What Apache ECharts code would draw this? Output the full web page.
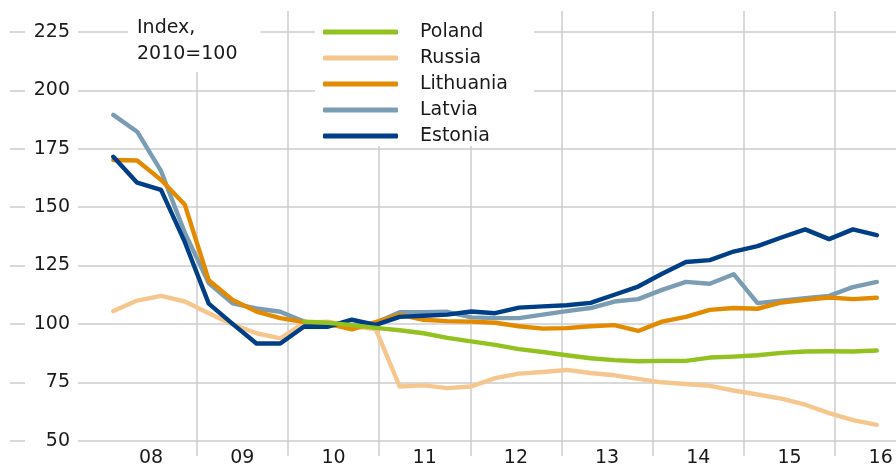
<!DOCTYPE html>
<html>
<head>
<meta charset="utf-8">
<script src="https://cdn.jsdelivr.net/npm/echarts@6/dist/echarts.min.js"></script>
<style>
  html, body { margin: 0; padding: 0; background: #fff; }
  #chart { width: 896px; height: 468px; }
</style>
</head>
<body>
<div id="chart"></div>
<script>
"use strict";

// quarterly points, index 2010=100
const quarters = [];
for (let y = 2008; y <= 2016; y++) {
  for (let q = 1; q <= 4; q++) {
    if (quarters.length < 33) quarters.push(y + "Q" + q);
  }
}
const years = ["08", "09", "10", "11", "12", "13", "14", "15", "16"];
const yTicks = [50, 75, 100, 125, 150, 175, 200, 225];

const poland = [null, null, null, null, null, null, null, null,
  101, 100.5, 99.5, 98.3, 97.3, 96, 94, 92.5, 91, 89.2, 88, 86.6, 85.3, 84.5, 84,
  84.2, 84.2, 85.6, 86, 86.6, 87.6, 88.2, 88.3, 88.2, 88.6];
const russia = [105.5, 110, 112, 109.6, 104.6, 99.8, 96, 93.8, 100.5, 101, 99,
  97.8, 73.2, 73.7, 72.5, 73.2, 76.8, 78.7, 79.4, 80.3, 79, 78, 76.5, 75, 74.3,
  73.5, 71.5, 69.8, 68, 65.4, 61.8, 58.8, 56.8];
const lithuania = [170.2, 170, 161.7, 151, 118.7, 110.3, 105.3, 102.5, 100.8, 100,
  97.7, 100.8, 104, 101.8, 101.2, 101, 100.5, 99, 98, 98.2, 99, 99.5, 97, 101, 103,
  106, 106.8, 106.5, 109.2, 110.3, 111.3, 110.6, 111.2];
const latvia = [189.5, 182.3, 165.5, 139, 117.5, 108.8, 106.6, 105.2, 101, 99.5, 99,
  100.5, 105, 105, 105.2, 102.8, 102.5, 102.5, 104, 105.5, 106.8, 109.6, 110.6,
  114.6, 118, 117.2, 121.3, 108.9, 110, 111, 112, 115.8, 118];
const estonia = [171.6, 160.5, 157.4, 135, 108.7, 100, 91.6, 91.6, 98.9, 98.8, 101.8,
  99.6, 103, 103.5, 104, 105.3, 104.6, 107, 107.5, 108, 109, 112.5, 116, 121.5,
  126.5, 127.3, 131, 133.3, 137, 140.5, 136.3, 140.5, 138];

const colors = {
  Poland: "#93c11f",
  Russia: "#f5c68d",
  Lithuania: "#e38a00",
  Latvia: "#7b9db4",
  Estonia: "#003e86",
};
const FONT = "DejaVu Sans";
const GRID_COLOR = "#cccccc";
const TEXT_COLOR = "#1a1a1a";

// year bands: the last one runs past the right edge of the canvas
const W = 896;
const YEAR_LEFT = 105.5;
const YEAR_W = 91.2;

function make_series(name, values) {
  return {
    name: name,
    type: "line",
    xAxisIndex: 1,
    yAxisIndex: 2,
    data: values,
    showSymbol: false,
    symbol: "none",
    silent: true,
    animation: false,
    itemStyle: { color: colors[name] },
    lineStyle: { color: colors[name], width: 4.4, cap: "round", join: "round" },
  };
}

const yRange = { min: yTicks[0], max: yTicks[yTicks.length - 1], interval: 25 };

const chart = echarts.init(document.getElementById("chart"), null, { renderer: "canvas" });
chart.setOption({
  animation: false,
  textStyle: { fontFamily: FONT },
  title: {
    text: "Index,\n2010=100",
    left: 128,
    top: 0,
    padding: [15, 23, 5, 9],
    backgroundColor: "#fff",
    textStyle: { fontFamily: FONT, fontSize: 19, fontWeight: "normal", color: TEXT_COLOR, lineHeight: 26 },
  },
  legend: {
    data: ["Poland", "Russia", "Lithuania", "Latvia", "Estonia"],
    orient: "vertical",
    left: 315,
    top: 0,
    padding: [22, 26, 0, 8],
    backgroundColor: "#fff",
    itemWidth: 75,
    itemHeight: 5,
    itemGap: 6,
    icon: "roundRect",
    selectedMode: false,
    textStyle: { fontFamily: FONT, fontSize: 19, color: TEXT_COLOR, lineHeight: 20, padding: [0, 0, 0, 17] },
  },
  grid: [
    // horizontal gridlines + y labels
    { left: 78, right: 0, top: 32, bottom: 27.3 },
    // vertical separators between years
    { left: YEAR_LEFT, right: 0, top: 11, bottom: 12 },
    // data
    { left: 113.3, right: 19.2, top: 32, bottom: 27.3 },
    // year labels, first tick at the middle of the first band
    { left: YEAR_LEFT + YEAR_W / 2, right: 0, top: 11, bottom: 12 },
  ],
  xAxis: [
    {
      gridIndex: 1,
      type: "value",
      min: 0,
      max: (W - YEAR_LEFT) / YEAR_W,
      interval: 1,
      axisLine: { show: false },
      axisTick: { show: false },
      axisLabel: { show: false },
      splitLine: { show: true, showMinLine: false, showMaxLine: false, lineStyle: { color: GRID_COLOR, width: 1.5 } },
    },
    { gridIndex: 2, type: "category", data: quarters, boundaryGap: false, show: false },
    { gridIndex: 0, type: "value", show: false },
    {
      gridIndex: 3,
      type: "value",
      min: 0,
      max: (W - YEAR_LEFT - YEAR_W / 2) / YEAR_W,
      interval: 1,
      axisLine: { show: false },
      axisTick: { show: false },
      splitLine: { show: false },
      axisLabel: {
        margin: 8,
        verticalAlign: "middle",
        showMaxLabel: false,
        fontFamily: FONT,
        fontSize: 19,
        color: TEXT_COLOR,
        formatter: function (v) {
          return Number.isInteger(v) && years[v] !== undefined ? years[v] : "";
        },
      },
    },
  ],
  yAxis: [
    {
      gridIndex: 0,
      type: "value",
      ...yRange,
      axisLine: { show: false },
      axisTick: { show: false },
      axisLabel: { margin: 8, fontFamily: FONT, fontSize: 19, color: TEXT_COLOR },
      splitLine: { show: true, lineStyle: { color: GRID_COLOR, width: 1.5 } },
    },
    {
      // little dashes at the far left
      gridIndex: 0,
      type: "value",
      position: "left",
      offset: 53,
      ...yRange,
      axisLine: { show: false },
      axisLabel: { show: false },
      axisTick: { show: true, length: 15, lineStyle: { color: GRID_COLOR, width: 1.5 } },
      splitLine: { show: false },
    },
    { gridIndex: 2, type: "value", ...yRange, show: false },
    { gridIndex: 1, type: "value", show: false },
    { gridIndex: 3, type: "value", show: false },
  ],
  series: [
    make_series("Russia", russia),
    make_series("Latvia", latvia),
    make_series("Lithuania", lithuania),
    make_series("Estonia", estonia),
    make_series("Poland", poland),
  ],
});
</script>
</body>
</html>
